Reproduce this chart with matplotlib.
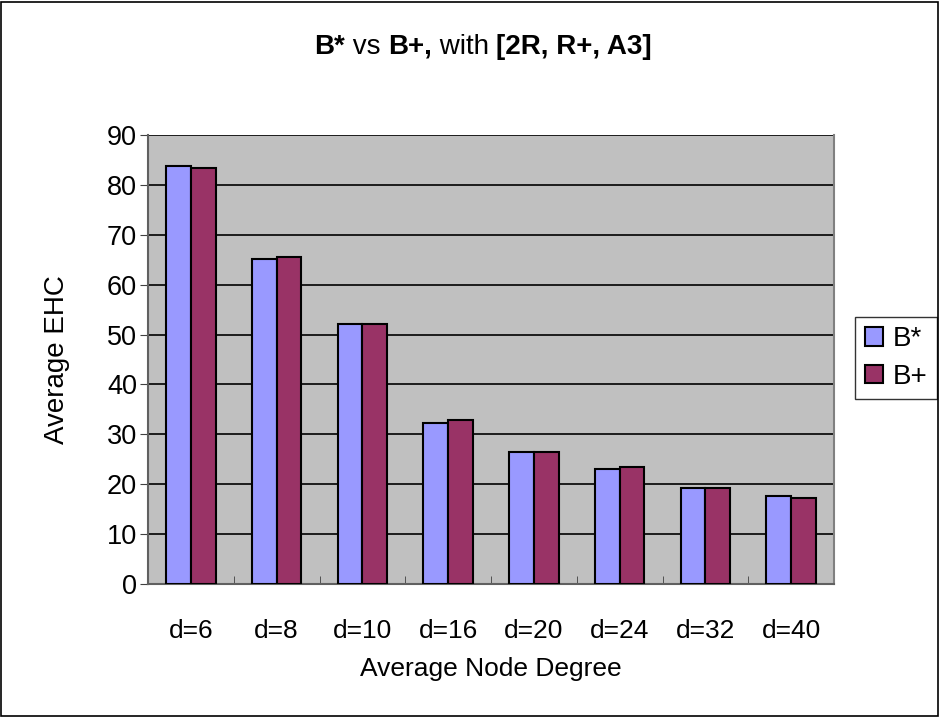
import matplotlib
matplotlib.use("Agg")
import matplotlib.pyplot as plt
import numpy as np
from matplotlib.patches import Rectangle

plt.rcParams['font.family'] = ['Liberation Sans', 'DejaVu Sans']

degrees = ['d=6', 'd=8', 'd=10', 'd=16', 'd=20', 'd=24', 'd=32', 'd=40']
b_star = [83.8, 65.1, 52.2, 32.3, 26.5, 23.0, 19.2, 17.6]
b_plus = [83.4, 65.5, 52.2, 32.8, 26.5, 23.5, 19.2, 17.2]

fig = plt.figure(figsize=(9.4, 7.23), dpi=100)
ax = fig.add_axes([148 / 940, 1 - 584 / 723, 686 / 940, 449 / 723])
ax.set_facecolor('#C0C0C0')

x = np.arange(len(degrees))
w = 0.29
ax.bar(x - w / 2, b_star, w, color='#9999FF', edgecolor='black', linewidth=1.5, label='B*', zorder=3)
ax.bar(x + w / 2, b_plus, w, color='#993366', edgecolor='black', linewidth=1.5, label='B+', zorder=3)

ax.set_xlim(-0.5, len(degrees) - 0.5)
ax.set_ylim(0, 90)
ax.set_yticks(range(0, 91, 10))
ax.yaxis.grid(True, color='black', linewidth=1.2, zorder=1)
ax.set_axisbelow(True)

ax.set_xticks(x)
ax.set_xticklabels(degrees)
ax.set_xticks(np.arange(0.5, len(degrees) - 0.5, 1), minor=True)
ax.tick_params(axis='x', which='major', length=0, pad=25, labelsize=19)
ax.tick_params(axis='x', which='minor', length=6, direction='in', color='#404040')
ax.tick_params(axis='y', length=6, direction='out', labelsize=19.5, color='#404040', pad=2)

for side in ['left', 'bottom']:
    ax.spines[side].set_color('#606060')
    ax.spines[side].set_linewidth(1.5)
ax.spines['right'].set_color('#808080')
ax.spines['right'].set_linewidth(1.5)
ax.spines['top'].set_visible(False)

ax.set_ylabel('Average EHC', fontsize=20)
ax.set_xlabel('Average Node Degree', fontsize=19)
ax.yaxis.set_label_coords((70 - 148) / 686, 0.5)
ax.xaxis.set_label_coords(0.5, (584 - 657) / 449)

# mixed-weight title, laid out piece by piece and centred
title_parts = [('B*', 'bold'), (' vs ', 'normal'), ('B+,', 'bold'), (' with ', 'normal'), ('[2R, R+, A3]', 'bold')]
renderer = fig.canvas.get_renderer()
texts = []
xpos = 0.0
for s, wt in title_parts:
    t = fig.text(xpos, 1 - 47 / 723, s, fontsize=20, fontweight=wt, ha='left', va='center')
    bb = t.get_window_extent(renderer)
    xpos += bb.width / fig.bbox.width
    texts.append(t)
start = 483 / 940 - xpos / 2
for t in texts:
    t.set_x(t.get_position()[0] + start)

leg = ax.legend(loc='center left', bbox_to_anchor=(855 / 940, 1 - 358 / 723), bbox_transform=fig.transFigure,
                fontsize=20, frameon=True, fancybox=False, edgecolor='black', handlelength=0.65,
                handleheight=0.65, handletextpad=0.35, borderpad=0.35, labelspacing=0.4, borderaxespad=0)
leg.get_frame().set_linewidth(1.0)

fig.patches.append(Rectangle((1 / 940, 1 - 716 / 723), 937 / 940, 714 / 723, transform=fig.transFigure,
                             fill=False, edgecolor='black', linewidth=1.2))

fig.savefig('out.png', dpi=100)
